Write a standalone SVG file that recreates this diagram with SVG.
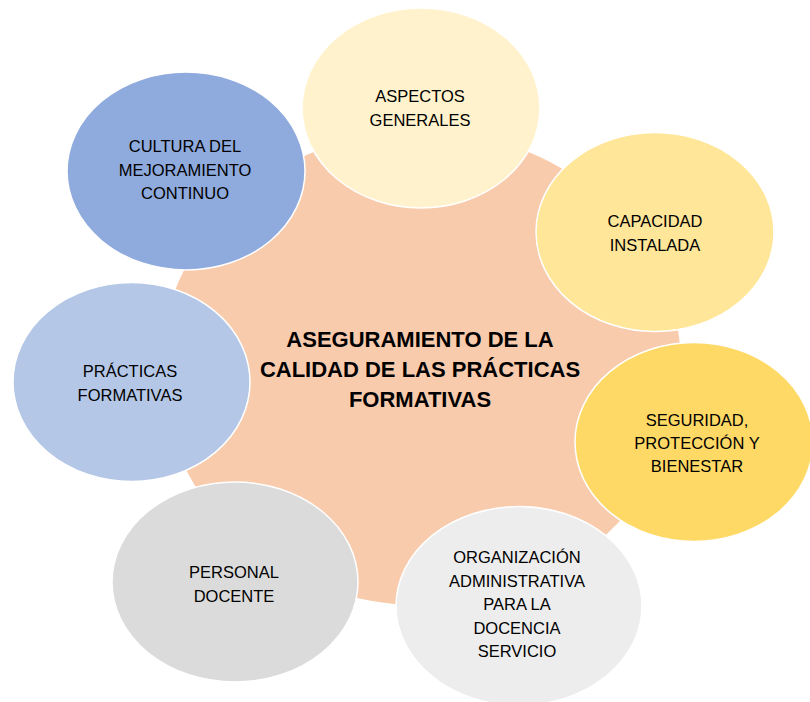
<svg xmlns="http://www.w3.org/2000/svg" width="810" height="702" viewBox="0 0 810 702">
  <style>
    .sat { stroke: #ffffff; stroke-width: 1.5; }
    .lbl { font-family: "Liberation Sans", Arial, sans-serif; font-size: 16.5px; fill: #000000; text-anchor: middle; }
    .title { font-family: "Liberation Sans", Arial, sans-serif; font-size: 22px; font-weight: bold; fill: #000000; text-anchor: middle; }
  </style>
  <rect x="0" y="0" width="810" height="702" fill="#ffffff"/>
  <g id="connectors"></g>
  <g id="center">
    <ellipse cx="421" cy="368" rx="261" ry="238" fill="#F8CBAD" class="sat"/>
    <text class="title" x="420" y="347">ASEGURAMIENTO DE LA</text>
    <text class="title" x="420" y="377">CALIDAD DE LAS PRÁCTICAS</text>
    <text class="title" x="420" y="407">FORMATIVAS</text>
  </g>
  <g id="aspectos">
    <ellipse cx="421" cy="108" rx="119" ry="100" fill="#FFF2CC" class="sat"/>
    <text class="lbl" x="420" y="102">ASPECTOS</text>
    <text class="lbl" x="420" y="126">GENERALES</text>
  </g>
  <g id="capacidad">
    <ellipse cx="655" cy="232" rx="119" ry="99.5" fill="#FFE699" class="sat"/>
    <text class="lbl" x="655" y="227">CAPACIDAD</text>
    <text class="lbl" x="655" y="251">INSTALADA</text>
  </g>
  <g id="seguridad">
    <ellipse cx="694" cy="442" rx="119" ry="99.5" fill="#FFD966" class="sat"/>
    <text class="lbl" x="697" y="426">SEGURIDAD,</text>
    <text class="lbl" x="697" y="449">PROTECCIÓN Y</text>
    <text class="lbl" x="697" y="472">BIENESTAR</text>
  </g>
  <g id="organizacion">
    <ellipse cx="519" cy="606" rx="123" ry="99.5" fill="#EDEDED" class="sat"/>
    <text class="lbl" x="517" y="563">ORGANIZACIÓN</text>
    <text class="lbl" x="517" y="586.5">ADMINISTRATIVA</text>
    <text class="lbl" x="517" y="610">PARA LA</text>
    <text class="lbl" x="517" y="633.5">DOCENCIA</text>
    <text class="lbl" x="517" y="657">SERVICIO</text>
  </g>
  <g id="personal">
    <ellipse cx="235" cy="582" rx="123" ry="100" fill="#DBDBDB" class="sat"/>
    <text class="lbl" x="234" y="578">PERSONAL</text>
    <text class="lbl" x="234" y="602">DOCENTE</text>
  </g>
  <g id="practicas">
    <ellipse cx="131.5" cy="382" rx="118.5" ry="99.5" fill="#B4C7E7" class="sat"/>
    <text class="lbl" x="130" y="377">PRÁCTICAS</text>
    <text class="lbl" x="130" y="401">FORMATIVAS</text>
  </g>
  <g id="cultura">
    <ellipse cx="186" cy="171" rx="119" ry="99" fill="#8FAADC" class="sat"/>
    <text class="lbl" x="185" y="152">CULTURA DEL</text>
    <text class="lbl" x="185" y="175.5">MEJORAMIENTO</text>
    <text class="lbl" x="185" y="199">CONTINUO</text>
  </g>
</svg>
